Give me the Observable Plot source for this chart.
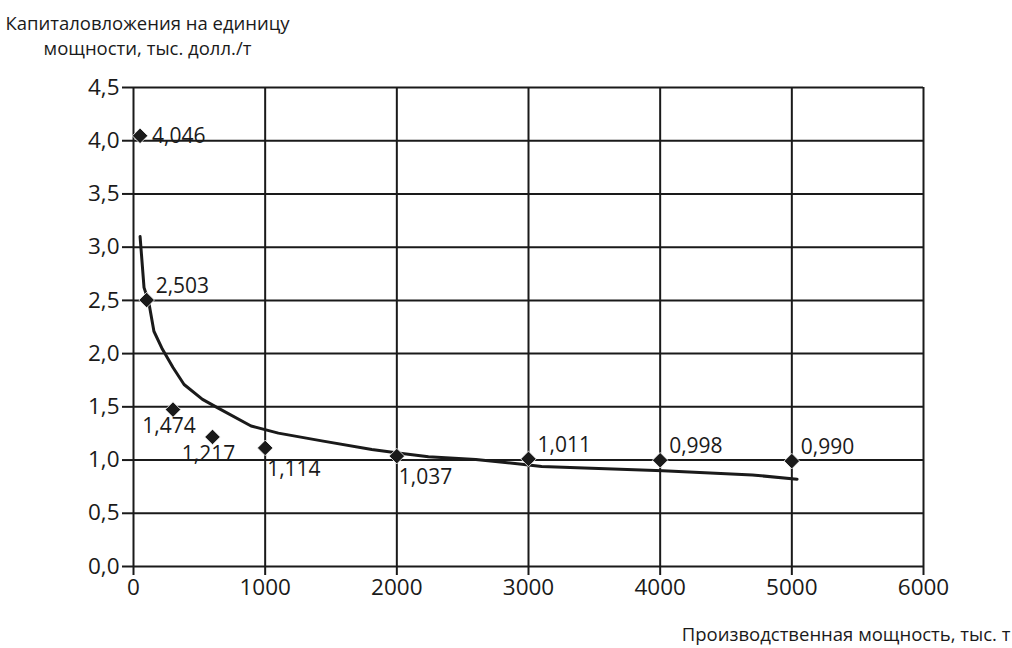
<!DOCTYPE html>
<html>
<head>
<meta charset="utf-8">
<script src="https://cdn.jsdelivr.net/npm/d3@7"></script>
<script src="https://cdn.jsdelivr.net/npm/@observablehq/plot@0.6"></script>
<style>
  html, body { margin: 0; padding: 0; background: #fff; }
  svg g[aria-label="x-axis tick label"], svg g[aria-label="y-axis tick label"] { font-size: 22.5px; }
</style>
</head>
<body>
<div id="chart"></div>
<script>
// Data points (capacity, thousand t; unit capital cost, thousand $/t)
const pointX = [50, 100, 300, 600, 1000, 2000, 3000, 4000, 5000];
const pointY = [4.046, 2.503, 1.474, 1.217, 1.114, 1.037, 1.011, 0.998, 0.990];
const pointLabels = ["4,046", "2,503", "1,474", "1,217", "1,114", "1,037", "1,011", "0,998", "0,990"];

// Trend curve
const curveX = [50, 80, 115, 155, 220, 300, 384, 524, 640, 893, 1100, 1430, 1810, 2010, 2240, 2600, 2950, 3100, 4020, 4700, 5040];
const curveY = [3.1, 2.62, 2.49, 2.21, 2.04, 1.87, 1.71, 1.57, 1.49, 1.32, 1.253, 1.18, 1.10, 1.066, 1.03, 1.005, 0.96, 0.94, 0.90, 0.86, 0.82];

const xTicks = [0, 1000, 2000, 3000, 4000, 5000, 6000];
const yTicks = [0, 0.5, 1, 1.5, 2, 2.5, 3, 3.5, 4, 4.5];

const yTitle = "Капиталовложения на единицу\nмощности, тыс. долл./т";
const xTitle = "Производственная мощность, тыс. т";

const points = pointX.map((x, i) => ({x, y: pointY[i], label: pointLabels[i], i}));
const curve = curveX.map((x, i) => ({x, y: curveY[i]}));

// label placement groups
const rightMid = [0];
const rightAbove = [1, 6, 7, 8];
const belowCenter = [2, 3];
const belowRight = [4, 5];

const fmt = d => d.toFixed(1).replace(".", ",");
const ink = "#1a1a1a";

const chart = Plot.plot({
  width: 1012,
  height: 648,
  marginLeft: 133,
  marginRight: 89,
  marginTop: 87,
  marginBottom: 82,
  style: {fontFamily: "'Open Sans', 'DejaVu Sans', sans-serif", fontSize: "21px", color: ink, background: "#fff"},
  x: {domain: [0, 6000]},
  y: {domain: [0, 4.5]},
  marks: [
    Plot.ruleX(xTicks, {stroke: ink, strokeWidth: 2}),
    Plot.ruleY(yTicks, {stroke: ink, strokeWidth: 2}),
    Plot.axisX(xTicks, {tickSize: 9, tickPadding: 4, strokeWidth: 2, stroke: ink, fill: ink, fontSize: 22.5, tickFormat: d => String(d), label: null}),
    Plot.axisY(yTicks, {tickSize: 11, tickPadding: 3, strokeWidth: 2, stroke: ink, fill: ink, fontSize: 22.5, tickFormat: fmt, label: null}),
    Plot.line(curve, {x: "x", y: "y", stroke: ink, strokeWidth: 3, curve: "linear"}),
    Plot.dot(points, {x: "x", y: "y", symbol: "diamond2", r: 7, fill: ink, stroke: "#fff", strokeWidth: 0.8}),
    Plot.text(points.filter(d => rightMid.includes(d.i)), {x: "x", y: "y", text: "label", textAnchor: "start", dx: 12, dy: 0, fill: ink, fontSize: 21}),
    Plot.text(points.filter(d => rightAbove.includes(d.i)), {x: "x", y: "y", text: "label", textAnchor: "start", dx: 9, dy: -14, fill: ink, fontSize: 21}),
    Plot.text(points.filter(d => belowCenter.includes(d.i)), {x: "x", y: "y", text: "label", textAnchor: "middle", dx: -4, dy: 17, fill: ink, fontSize: 21}),
    Plot.text(points.filter(d => belowRight.includes(d.i)), {x: "x", y: "y", text: "label", textAnchor: "start", dx: 2, dy: 21, fill: ink, fontSize: 21}),
    Plot.text([yTitle], {frameAnchor: "top-left", dx: 14, dy: -53, textAnchor: "middle", lineAnchor: "middle", lineHeight: 1.35, fontSize: 18.5, fill: ink}),
    Plot.text([xTitle], {frameAnchor: "bottom-right", dx: 87, dy: 69, textAnchor: "end", lineAnchor: "middle", fontSize: 18.5, fill: ink})
  ]
});
document.getElementById("chart").appendChild(chart);
</script>
</body>
</html>
